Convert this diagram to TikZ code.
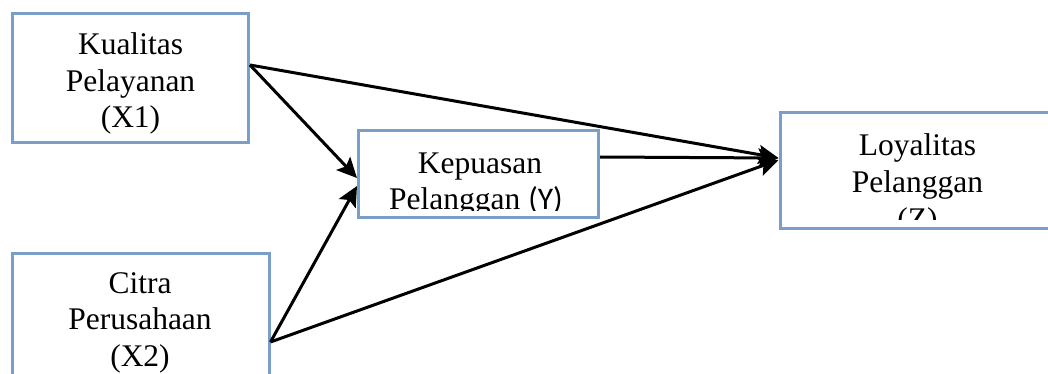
\documentclass[tikz,border=0pt]{standalone}
\usepackage{fontspec}
\setmainfont{Liberation Serif}
\newfontfamily\calibfont{Carlito}
\usetikzlibrary{arrows.meta}
\definecolor{boxblue}{RGB}{122,158,200}
\begin{document}
\begin{tikzpicture}[x=1pt,y=-1pt,
  varbox/.style={draw=boxblue, line width=3pt, inner sep=0pt},
  txt/.style={anchor=base, inner sep=0pt, font=\fontsize{31.5}{36.5}\selectfont},
  arr/.style={line width=3pt, -{Stealth[length=20pt,width=19pt,inset=4pt]}}]
\useasboundingbox (0,0) rectangle (1048,374);
\clip (0,0) rectangle (1048,374);

% variable boxes
\node[varbox, minimum width=236pt, minimum height=128.5pt] (x1) at (130.5,78.25) {};
\node[varbox, minimum width=240pt, minimum height=86pt] (y) at (478.5,174) {};
\node[varbox, minimum width=275pt, minimum height=115pt] (z) at (917.5,170.5) {};
\node[varbox, minimum width=256.5pt, minimum height=167pt] (x2) at (140.75,336.5) {};

% box labels (text overflowing a box is cut at its inner margin)
\node[txt] (x1a) at (130.5,55) {Kualitas};
\node[txt] (x1b) at (130.5,91.5) {Pelayanan};
\node[txt] (x1c) at (130.5,128) {(X1)};

\begin{scope}
  \clip (360,132.5) rectangle (597,210);
  \node[txt] (ya) at (480,173) {Kepuasan};
  \node[txt] (yb) at (476,209.5) {Pelanggan {\calibfont (Y)}};
\end{scope}

\begin{scope}
  \clip (781.5,115) rectangle (1048,219);
  \node[txt] (za) at (917.5,156) {Loyalitas};
  \node[txt] (zb) at (917.5,192.5) {Pelanggan};
  \node[txt] (zc) at (917.5,229) {(Z)};
\end{scope}

\node[txt] (x2a) at (140,293) {Citra};
\node[txt] (x2b) at (140,329.5) {Perusahaan};
\node[txt] (x2c) at (140,366) {(X2)};

% paths
\draw[arr] ([yshift=13.25pt]x1.east) -- ([yshift=-4pt]y.west);
\draw[arr] ([yshift=-90.5pt]x2.north east) -- ([yshift=-12pt]y.west);
\draw[arr] ([yshift=13.25pt]x1.east) -- ([yshift=12.5pt]z.west);
\draw[arr] ([yshift=17pt]y.east) -- ([yshift=12.5pt]z.west);
\draw[arr] ([yshift=-90.5pt]x2.north east) -- ([yshift=10.5pt]z.west);
\end{tikzpicture}
\end{document}
